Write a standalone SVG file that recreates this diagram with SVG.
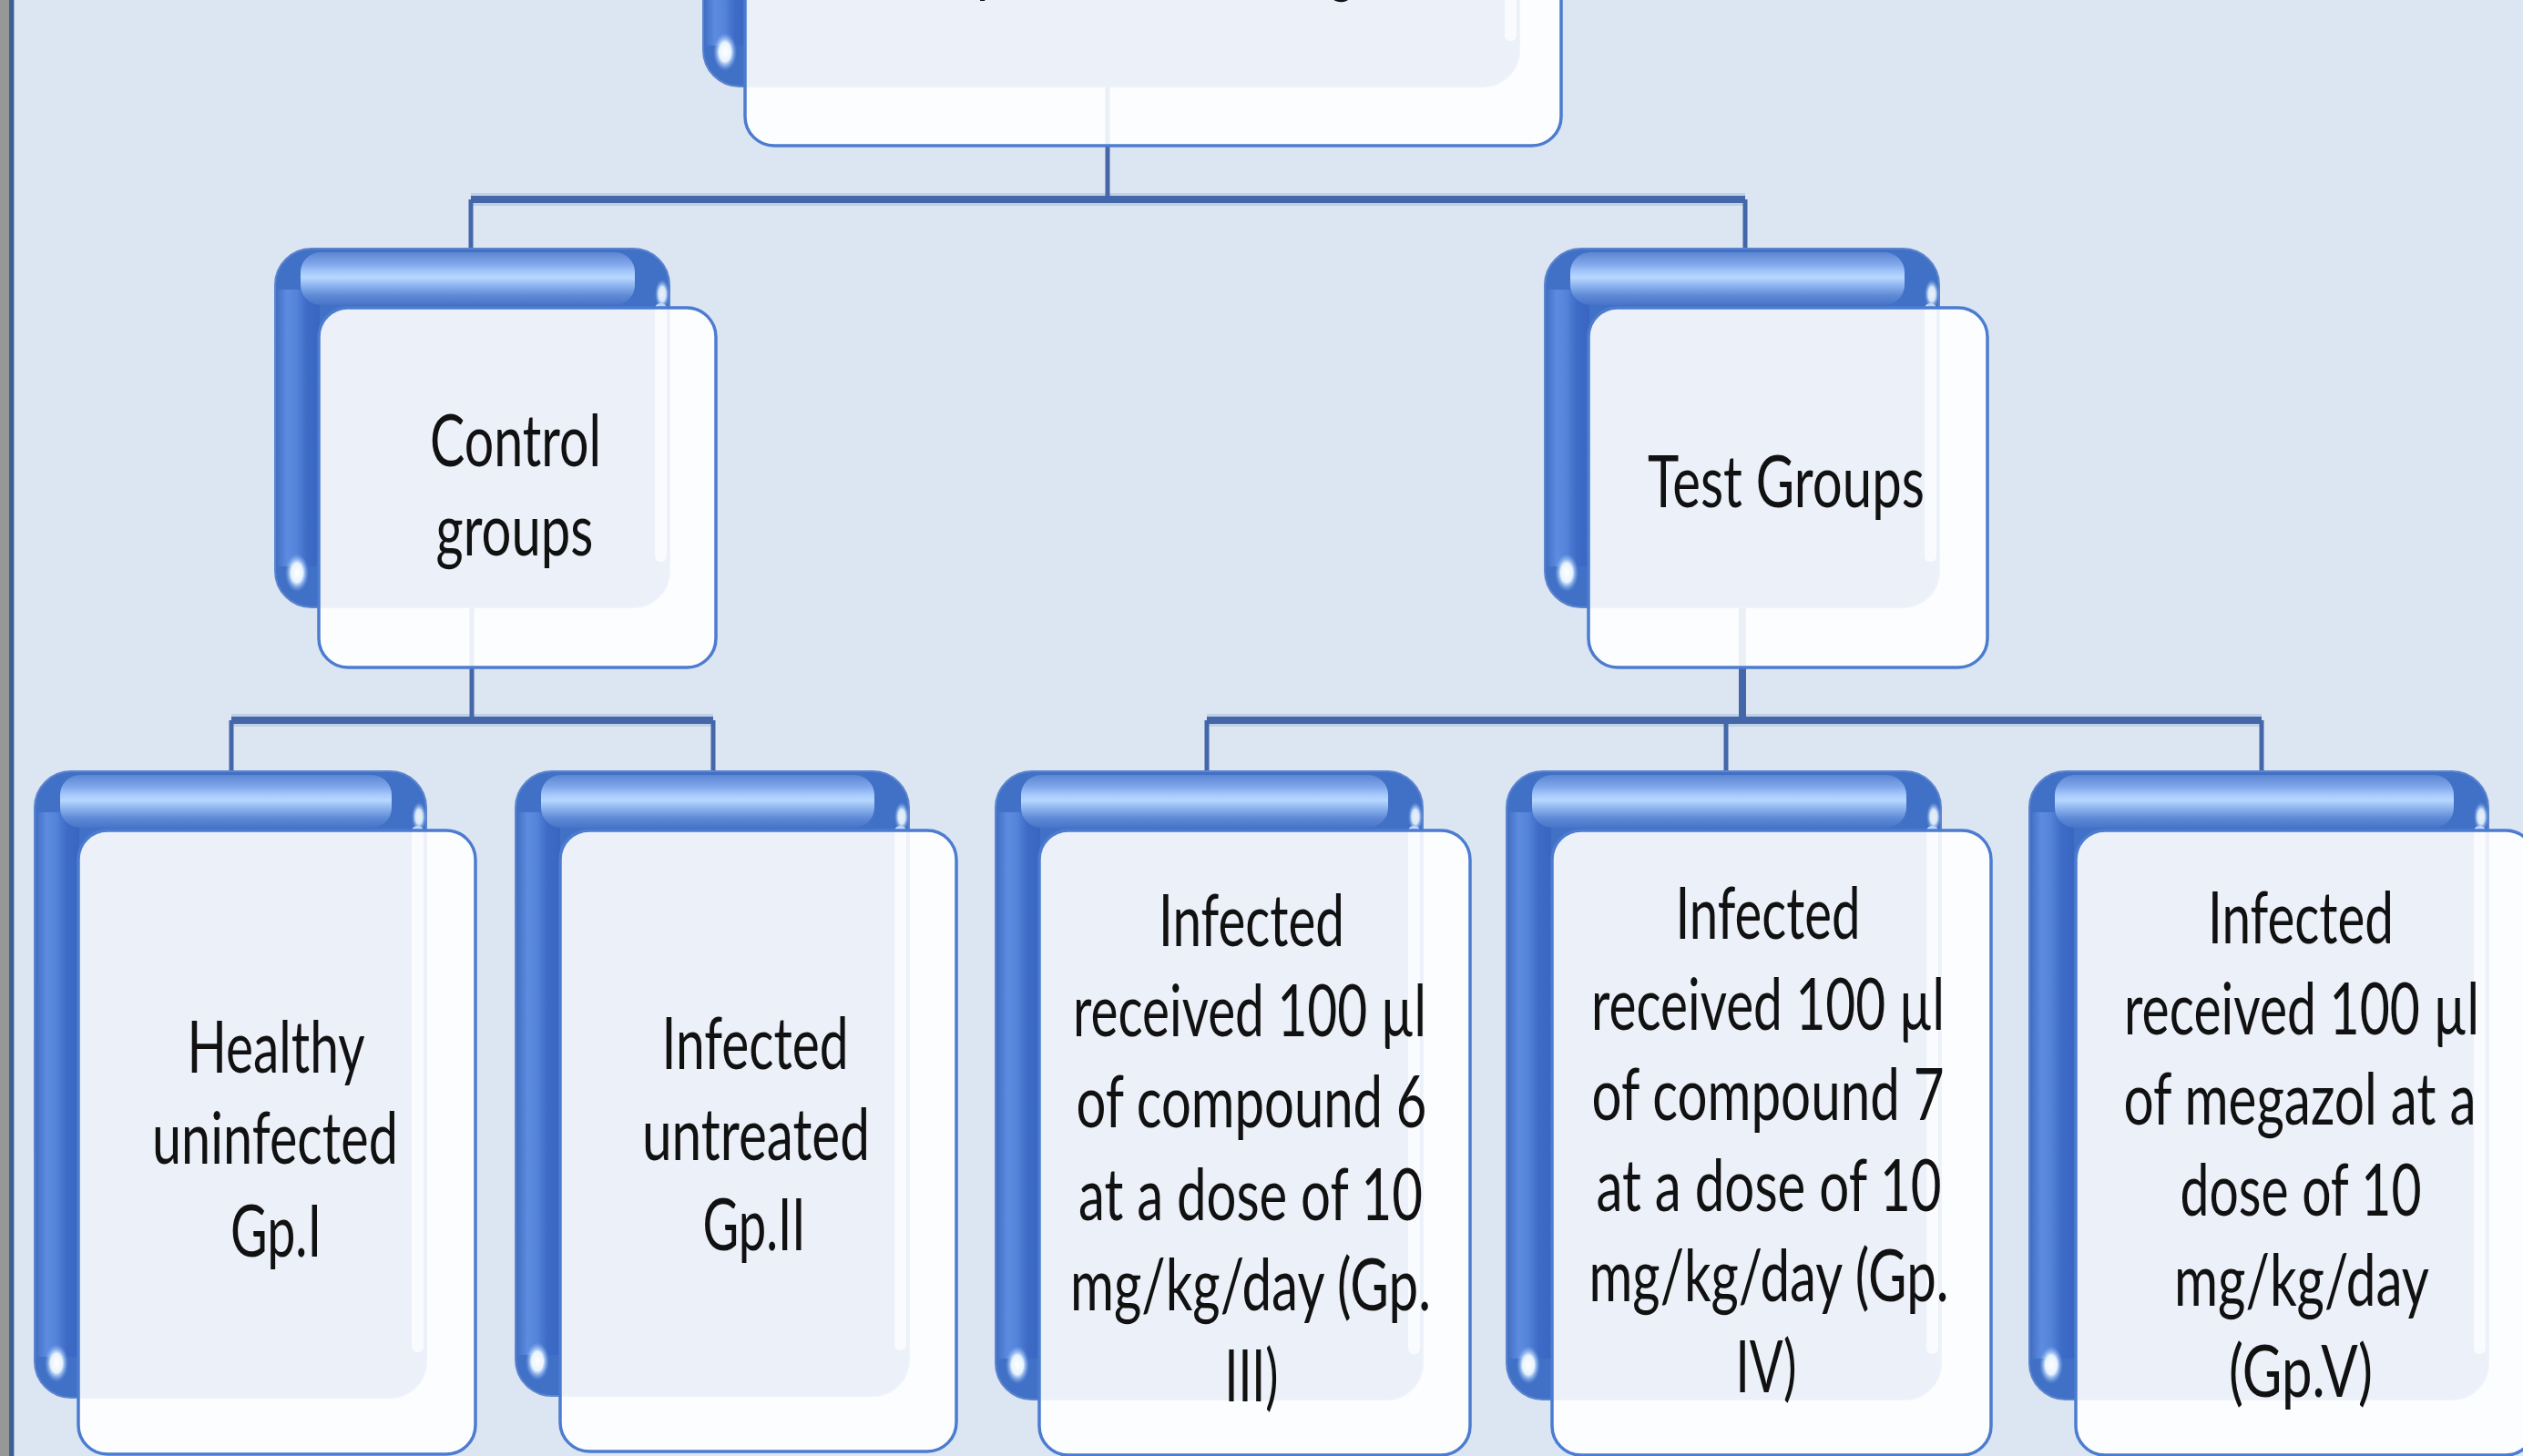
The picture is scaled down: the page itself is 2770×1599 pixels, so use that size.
<svg xmlns="http://www.w3.org/2000/svg" width="2770" height="1599" viewBox="0 0 2770 1599">
<defs>
<style>
.conn{stroke:#4467A9;fill:none;stroke-linecap:butt}
.halo{stroke:#B7C6E0;fill:none;stroke-opacity:0.7}
.B{fill:#4071C6;stroke:#5D84CE;stroke-width:2}
.bl{fill:url(#gLeft)}
.bt{fill:url(#gTop)}
.br{fill:#D6E6FF;opacity:0.9}
.g1{fill:url(#gGlint)}
.g2{fill:url(#gGlint);opacity:0.9}
.W{fill:#FFFFFF;fill-opacity:0.895;stroke:#4C7CD0;stroke-width:3.5}
.t{font-family:Lato,"Open Sans","Liberation Sans",sans-serif;font-size:80px;fill:#111111;text-anchor:middle}
</style>
<linearGradient id="gLeft" x1="0" y1="0" x2="1" y2="0">
<stop offset="0" stop-color="#4673C6"/>
<stop offset="0.22" stop-color="#5C8BE0"/>
<stop offset="0.45" stop-color="#5483D9"/>
<stop offset="0.7" stop-color="#3D6BC6"/>
<stop offset="1" stop-color="#3966C2"/>
</linearGradient>
<linearGradient id="gTop" x1="0" y1="0" x2="0" y2="1">
<stop offset="0" stop-color="#5C86D2"/>
<stop offset="0.22" stop-color="#7FA6EA"/>
<stop offset="0.38" stop-color="#A6C9FC"/>
<stop offset="0.48" stop-color="#B8D8FF"/>
<stop offset="0.6" stop-color="#96BBF3"/>
<stop offset="0.82" stop-color="#5E8AD6"/>
<stop offset="1" stop-color="#4774C8"/>
</linearGradient>
<radialGradient id="gGlint" cx="0.5" cy="0.5" r="0.5">
<stop offset="0" stop-color="#FFFFFF"/>
<stop offset="0.5" stop-color="#E8F4FF"/>
<stop offset="1" stop-color="#7FAEF5" stop-opacity="0"/>
</radialGradient>
</defs>

<rect x="0" y="0" width="2770" height="1599" fill="#DCE6F2"/>
<rect x="0" y="0" width="10" height="1599" fill="#979797"/>
<rect x="10" y="0" width="5" height="1599" fill="#3C6190"/>
<rect x="15" y="0" width="1" height="1599" fill="#9DB3D1"/>

<g id="connectors">
<path class="halo" stroke-width="14" d="M517,219 H1916 M254,791 H783 M1325,791 H2483"/>
<path class="conn" stroke-width="8" d="M517,219 H1916 M254,791 H783 M1325,791 H2483"/>
<path class="conn" stroke-width="5" d="M1216,95 V219 M517,219 V273 M1916,219 V273 M518,667 V791 M254,791 V847 M783,791 V847 M1325,791 V847 M1895,791 V847 M2483,791 V847"/>
<path class="conn" stroke-width="8" d="M1913,667 V791"/>
</g>

<g id="node-top">
<rect class="B" x="772" y="-300" width="896" height="395" rx="40"/>
<rect class="bl" x="775" y="-255" width="46" height="305"/>
<rect class="br" x="1652" y="-240" width="13" height="285" rx="6"/>
<ellipse class="g1" cx="796" cy="57" rx="13" ry="21"/>
<rect class="W" x="818" y="-235" width="896" height="395" rx="32"/>
<text class="t" x="1265" y="-13" transform="matrix(0.7 0 0 1 379.5 0)" textLength="728.6" lengthAdjust="spacingAndGlyphs">Experimental design</text>
</g>

<g id="node-control">
<rect class="B" x="302" y="273" width="433" height="394" rx="40"/>
<rect class="bl" x="305" y="318" width="46" height="304"/>
<rect class="bt" x="330" y="277" width="367" height="58" rx="22"/>
<rect class="br" x="719" y="333" width="13" height="284" rx="6"/>
<ellipse class="g1" cx="326" cy="629" rx="13" ry="21"/>
<ellipse class="g2" cx="727" cy="323" rx="8" ry="16"/>
<rect class="W" x="350" y="338" width="436" height="395" rx="32"/>
<text class="t" x="566" y="512" transform="matrix(0.7 0 0 1 169.8 0)" textLength="268.6" lengthAdjust="spacingAndGlyphs">Control</text>
<text class="t" x="565" y="610" transform="matrix(0.7 0 0 1 169.5 0)" textLength="247.1" lengthAdjust="spacingAndGlyphs">groups</text>
</g>

<g id="node-test">
<rect class="B" x="1696" y="273" width="433" height="394" rx="40"/>
<rect class="bl" x="1699" y="318" width="46" height="304"/>
<rect class="bt" x="1724" y="277" width="367" height="58" rx="22"/>
<rect class="br" x="2113" y="333" width="13" height="284" rx="6"/>
<ellipse class="g1" cx="1720" cy="629" rx="13" ry="21"/>
<ellipse class="g2" cx="2121" cy="323" rx="8" ry="16"/>
<rect class="W" x="1744" y="338" width="438" height="395" rx="32"/>
<text class="t" x="1961" y="557" transform="matrix(0.7 0 0 1 588.3 0)" textLength="434.3" lengthAdjust="spacingAndGlyphs">Test Groups</text>
</g>

<g id="node-gp1">
<rect class="B" x="38" y="847" width="430" height="688" rx="40"/>
<rect class="bl" x="41" y="892" width="46" height="598"/>
<rect class="bt" x="66" y="851" width="364" height="58" rx="22"/>
<rect class="br" x="452" y="907" width="13" height="578" rx="6"/>
<ellipse class="g1" cx="62" cy="1497" rx="13" ry="21"/>
<ellipse class="g2" cx="460" cy="897" rx="8" ry="16"/>
<rect class="W" x="86" y="912" width="436" height="685" rx="32"/>
<text class="t" x="303" y="1178" transform="matrix(0.7 0 0 1 90.9 0)" textLength="278.6" lengthAdjust="spacingAndGlyphs">Healthy</text>
<text class="t" x="302" y="1278" transform="matrix(0.7 0 0 1 90.6 0)" textLength="385.7" lengthAdjust="spacingAndGlyphs">uninfected</text>
<text class="t" x="303" y="1380" transform="matrix(0.7 0 0 1 90.9 0)" textLength="142.9" lengthAdjust="spacingAndGlyphs">Gp.I</text>
</g>

<g id="node-gp2">
<rect class="B" x="566" y="847" width="432" height="686" rx="40"/>
<rect class="bl" x="569" y="892" width="46" height="596"/>
<rect class="bt" x="594" y="851" width="366" height="58" rx="22"/>
<rect class="br" x="982" y="907" width="13" height="576" rx="6"/>
<ellipse class="g1" cx="590" cy="1495" rx="13" ry="21"/>
<ellipse class="g2" cx="990" cy="897" rx="8" ry="16"/>
<rect class="W" x="615" y="912" width="435" height="682" rx="32"/>
<text class="t" x="829" y="1174" transform="matrix(0.7 0 0 1 248.7 0)" textLength="292.9" lengthAdjust="spacingAndGlyphs">Infected</text>
<text class="t" x="830" y="1274" transform="matrix(0.7 0 0 1 249 0)" textLength="357.1" lengthAdjust="spacingAndGlyphs">untreated</text>
<text class="t" x="828" y="1373" transform="matrix(0.7 0 0 1 248.4 0)" textLength="161.4" lengthAdjust="spacingAndGlyphs">Gp.II</text>
</g>

<g id="node-gp3">
<rect class="B" x="1093" y="847" width="469" height="690" rx="40"/>
<rect class="bl" x="1096" y="892" width="46" height="600"/>
<rect class="bt" x="1121" y="851" width="403" height="58" rx="22"/>
<rect class="br" x="1546" y="907" width="13" height="580" rx="6"/>
<ellipse class="g1" cx="1117" cy="1499" rx="13" ry="21"/>
<ellipse class="g2" cx="1554" cy="897" rx="8" ry="16"/>
<rect class="W" x="1141" y="912" width="473" height="686" rx="32"/>
<text class="t" x="1374" y="1039" transform="matrix(0.7 0 0 1 412.2 0)" textLength="291.4" lengthAdjust="spacingAndGlyphs">Infected</text>
<text class="t" x="1372" y="1138" transform="matrix(0.7 0 0 1 411.6 0)" textLength="554.3" lengthAdjust="spacingAndGlyphs">received  100 µl</text>
<text class="t" x="1374" y="1238" transform="matrix(0.7 0 0 1 412.2 0)" textLength="550" lengthAdjust="spacingAndGlyphs">of compound 6</text>
<text class="t" x="1373" y="1340" transform="matrix(0.7 0 0 1 411.9 0)" textLength="540" lengthAdjust="spacingAndGlyphs">at a dose of 10</text>
<text class="t" x="1373" y="1439" transform="matrix(0.7 0 0 1 411.9 0)" textLength="565.7" lengthAdjust="spacingAndGlyphs">mg/kg/day (Gp.</text>
<text class="t" x="1374" y="1539" transform="matrix(0.7 0 0 1 412.2 0)" textLength="84.3" lengthAdjust="spacingAndGlyphs">III)</text>
</g>

<g id="node-gp4">
<rect class="B" x="1654" y="847" width="477" height="690" rx="40"/>
<rect class="bl" x="1657" y="892" width="46" height="600"/>
<rect class="bt" x="1682" y="851" width="411" height="58" rx="22"/>
<rect class="br" x="2115" y="907" width="13" height="580" rx="6"/>
<ellipse class="g1" cx="1678" cy="1499" rx="13" ry="21"/>
<ellipse class="g2" cx="2123" cy="897" rx="8" ry="16"/>
<rect class="W" x="1704" y="912" width="482" height="686" rx="32"/>
<text class="t" x="1941" y="1031" transform="matrix(0.7 0 0 1 582.3 0)" textLength="290" lengthAdjust="spacingAndGlyphs">Infected</text>
<text class="t" x="1941" y="1131" transform="matrix(0.7 0 0 1 582.3 0)" textLength="554.3" lengthAdjust="spacingAndGlyphs">received  100 µl</text>
<text class="t" x="1941" y="1230" transform="matrix(0.7 0 0 1 582.3 0)" textLength="552.9" lengthAdjust="spacingAndGlyphs">of compound 7</text>
<text class="t" x="1942" y="1330" transform="matrix(0.7 0 0 1 582.6 0)" textLength="541.4" lengthAdjust="spacingAndGlyphs">at a dose of 10</text>
<text class="t" x="1942" y="1429" transform="matrix(0.7 0 0 1 582.6 0)" textLength="564.3" lengthAdjust="spacingAndGlyphs">mg/kg/day (Gp.</text>
<text class="t" x="1939" y="1529" transform="matrix(0.7 0 0 1 581.7 0)" textLength="95.7" lengthAdjust="spacingAndGlyphs">IV)</text>
</g>

<g id="node-gp5">
<rect class="B" x="2228" y="847" width="504" height="690" rx="40"/>
<rect class="bl" x="2231" y="892" width="46" height="600"/>
<rect class="bt" x="2256" y="851" width="438" height="58" rx="22"/>
<rect class="br" x="2716" y="907" width="13" height="580" rx="6"/>
<ellipse class="g1" cx="2252" cy="1499" rx="13" ry="21"/>
<ellipse class="g2" cx="2724" cy="897" rx="8" ry="16"/>
<rect class="W" x="2279" y="912" width="504" height="686" rx="32"/>
<text class="t" x="2526" y="1036" transform="matrix(0.7 0 0 1 757.8 0)" textLength="291.4" lengthAdjust="spacingAndGlyphs">Infected</text>
<text class="t" x="2527" y="1136" transform="matrix(0.7 0 0 1 758.1 0)" textLength="557.1" lengthAdjust="spacingAndGlyphs">received  100 µl</text>
<text class="t" x="2525" y="1235" transform="matrix(0.7 0 0 1 757.5 0)" textLength="552.9" lengthAdjust="spacingAndGlyphs">of megazol at a</text>
<text class="t" x="2526" y="1335" transform="matrix(0.7 0 0 1 757.8 0)" textLength="378.6" lengthAdjust="spacingAndGlyphs">dose of 10</text>
<text class="t" x="2527" y="1434" transform="matrix(0.7 0 0 1 758.1 0)" textLength="400" lengthAdjust="spacingAndGlyphs">mg/kg/day</text>
<text class="t" x="2526" y="1534" transform="matrix(0.7 0 0 1 757.8 0)" textLength="225.7" lengthAdjust="spacingAndGlyphs">(Gp.V)</text>
</g>
</svg>
